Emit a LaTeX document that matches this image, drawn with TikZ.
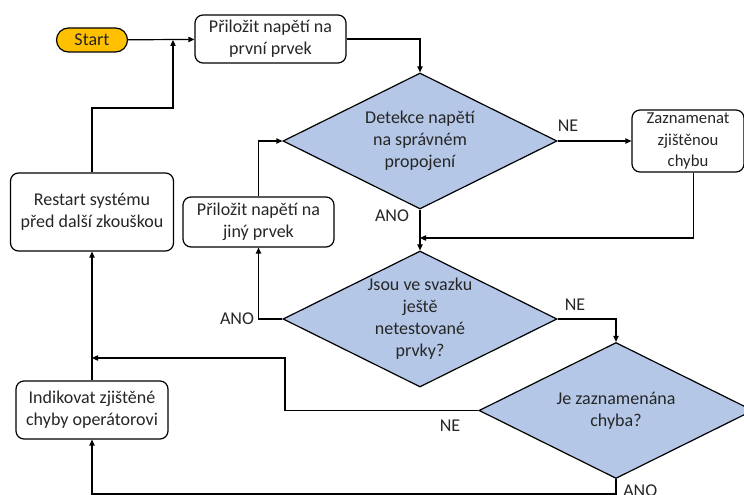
\documentclass[tikz,border=0pt]{standalone}
\usepackage{fontspec}
\setmainfont{Carlito}
\usetikzlibrary{shapes.geometric,shapes.misc,arrows.meta}
\definecolor{dfill}{HTML}{B4C7E7}
\definecolor{sfill}{HTML}{FFC000}
\definecolor{txt}{HTML}{262626}
\tikzset{
  every node/.style={font=\fontsize{13.5pt}{16.5pt}\selectfont, text=txt},
  procbox/.style={draw=black, line width=0.9pt, rounded corners=6pt, fill=white, align=center, inner sep=0pt},
  startbox/.style={draw=black, line width=0.9pt, rounded rectangle, fill=sfill, align=center, inner sep=0pt, minimum width=53.25pt, minimum height=18pt},
  decision/.style={draw=black, line width=0.9pt, diamond, aspect=2, fill=dfill, align=center, inner sep=0pt, minimum width=205.5pt, minimum height=102pt},
  conn/.style={draw=black, line width=0.9pt, -{Triangle[length=4.5pt,width=4pt]}},
  lbl/.style={inner sep=0pt}
}
\begin{document}
\begin{tikzpicture}[x=0.75pt, y=-0.75pt]
\useasboundingbox (0,0) rectangle (744,495);
\fill[white] (0,0) rectangle (744,495);

% nodes
\node[startbox] (start) at (92,40) {Start};
\node[procbox, minimum width=113.25pt, minimum height=36pt] (b1) at (270.5,39) {Přiložit napětí na\\první prvek};
\node[decision] (d1) at (420,141) {Detekce napětí\\na správném\\propojení};
\node[procbox, minimum width=84pt, minimum height=46.5pt, font=\fontsize{12.5pt}{16pt}\selectfont] (zaz) at (688,141) {Zaznamenat\\zjištěnou\\chybu};
\node[decision] (d2) at (420,319) {Jsou ve svazku\\ještě\\netestované\\prvky?};
\node[procbox, minimum width=113.25pt, minimum height=37.5pt] (jiny) at (258.5,222) {Přiložit napětí na\\jiný prvek};
\node[procbox, minimum width=122.25pt, minimum height=58.5pt] (rest) at (92,212) {Restart systému\\před další zkouškou};
\node[decision] (d3) at (616,410.5) {Je zaznamenána\\chyba?};
\node[procbox, minimum width=114pt, minimum height=43.5pt] (ind) at (92,410) {Indikovat zjištěné\\chyby operátorovi};

% coordinates
\coordinate (j1) at (420,238);
\coordinate (k1) at (285,358);
\coordinate (j2) at (92,358);
\coordinate (k2) at (173,108);
\coordinate (j3) at (173,40);
\coordinate (k3) at (616,494);

% connectors
\draw[conn] (start) -- (b1);
\draw[conn] (b1.east) -| (d1.north);
\draw[conn] (d1.east) -- (zaz.west);
\draw[conn] ([xshift=4pt]zaz.south) |- (j1);
\draw[conn] (d1.south) -- (d2.north);
\draw[conn] (d2.west) -| (jiny.south);
\draw[conn] (jiny.north) |- (d1.west);
\draw[conn] (d2.east) -| (d3.north);
\draw[conn] (d3.west) -| (k1) -- (j2);
\draw[conn] (ind.north) -- (rest.south);
\draw[conn] (rest.north) |- (k2) -- (j3);
\draw[conn] (d3.south) -- (k3) -| (ind.south);

% labels
\node[lbl] (l1) at (568,126) {NE};
\node[lbl] (l2) at (392,216) {ANO};
\node[lbl] (l3) at (237,319) {ANO};
\node[lbl] (l4) at (575,305) {NE};
\node[lbl] (l5) at (450,426) {NE};
\node[lbl, anchor=base west] (l6) at (623,497) {ANO};
\end{tikzpicture}
\end{document}
